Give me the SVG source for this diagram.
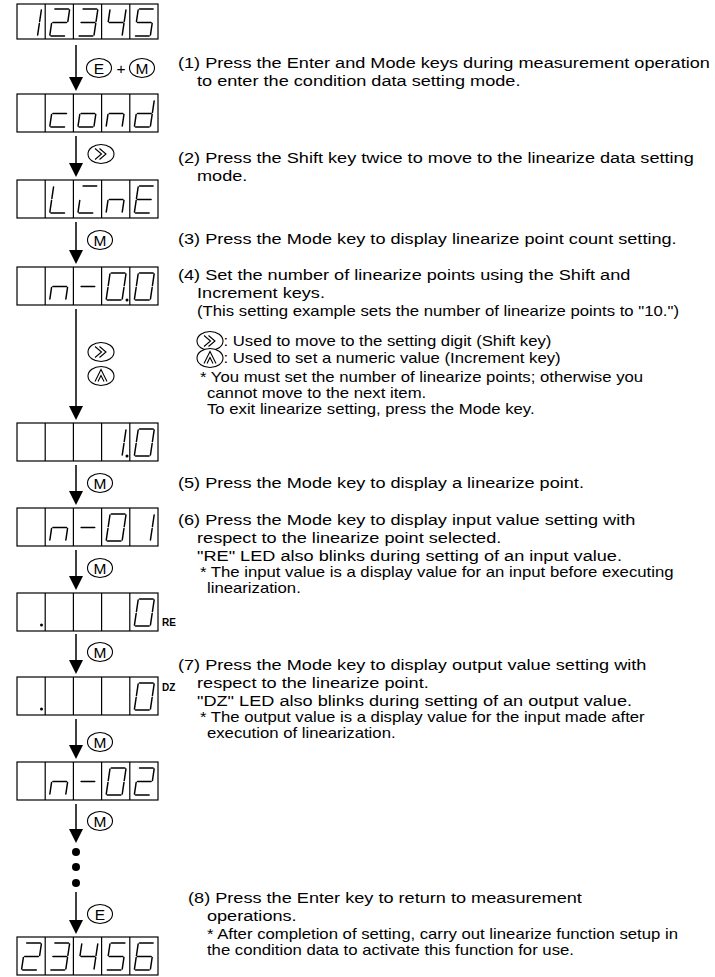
<svg xmlns="http://www.w3.org/2000/svg" width="715" height="977" viewBox="0 0 715 977">
<style>
.box{fill:none;stroke:#000;stroke-width:1.2}
.seg{fill:none;stroke:#000;stroke-width:1.5;stroke-linecap:round;stroke-linejoin:round}
.dp{fill:#000}
.key{fill:#fff;stroke:#000;stroke-width:1.1}
.ic{fill:none;stroke:#000;stroke-width:1.1}
.kl{font-family:"Liberation Sans",Arial,sans-serif;font-size:15.5px;text-anchor:middle;fill:#000}
.t{font-family:"Liberation Sans",Arial,sans-serif;font-size:15.5px;fill:#000}
.s{font-size:14.3px}
.led{font-family:"Liberation Sans",Arial,sans-serif;font-size:10px;font-weight:bold;fill:#000}
.conn line{stroke:#000;stroke-width:1.5}
.dot{fill:#000}
</style>
<defs>
<marker id="ah" markerUnits="userSpaceOnUse" markerWidth="14" markerHeight="14" viewBox="0 0 14 14" refX="7" refY="7" orient="auto"><path d="M0,0L14,7L0,14z" fill="#000"/></marker>
<g id="frame"><rect x="17" y="0" width="141" height="38"/><path d="M45.2,0V38M73.4,0V38M101.6,0V38M129.8,0V38"/></g>
<path id="d0" d="M9.7,6H23.3M24.35,7L22.65,18.5M22.35,20.5L20.65,32M5.7,33H19.3M6.35,20.5L4.65,32M8.35,7L6.65,18.5"/>
<path id="d1" d="M24.35,7L22.65,18.5M22.35,20.5L20.65,32"/>
<path id="d2" d="M9.7,6H23.3M24.35,7L22.65,18.5M7.7,19.5H21.3M6.35,20.5L4.65,32M5.7,33H19.3"/>
<path id="d3" d="M9.7,6H23.3M24.35,7L22.65,18.5M7.7,19.5H21.3M22.35,20.5L20.65,32M5.7,33H19.3"/>
<path id="d4" d="M8.35,7L6.65,18.5M7.7,19.5H21.3M24.35,7L22.65,18.5M22.35,20.5L20.65,32"/>
<path id="d5" d="M9.7,6H23.3M8.35,7L6.65,18.5M7.7,19.5H21.3M22.35,20.5L20.65,32M5.7,33H19.3"/>
<path id="d6" d="M9.7,6H23.3M8.35,7L6.65,18.5M7.7,19.5H21.3M6.35,20.5L4.65,32M22.35,20.5L20.65,32M5.7,33H19.3"/>
<path id="sc" d="M7.7,19.5H21.3M6.35,20.5L4.65,32M5.7,33H19.3"/>
<path id="so" d="M7.7,19.5H21.3M22.35,20.5L20.65,32M5.7,33H19.3M6.35,20.5L4.65,32"/>
<path id="sn" d="M7.7,19.5H21.3M6.35,20.5L4.65,32M22.35,20.5L20.65,32"/>
<path id="sd" d="M24.35,7L22.65,18.5M22.35,20.5L20.65,32M7.7,19.5H21.3M6.35,20.5L4.65,32M5.7,33H19.3"/>
<path id="sL" d="M8.35,7L6.65,18.5M6.35,20.5L4.65,32M5.7,33H19.3"/>
<path id="si" d="M9.7,6H23.3M6.35,20.5L4.65,32M5.7,33H19.3"/>
<path id="sE" d="M9.7,6H23.3M8.35,7L6.65,18.5M7.7,19.5H21.3M6.35,20.5L4.65,32M5.7,33H19.3"/>
<path id="sm" d="M7.7,19.5H21.3"/>
<g id="shift"><ellipse class="key" rx="13" ry="9.5"/><path class="ic" d="M-6,-5.5L0.5,0L-6,5.5M-1.5,-5.5L5,0L-1.5,5.5"/></g>
<g id="inc"><ellipse class="key" rx="13" ry="9.5"/><path class="ic" d="M-6,5.5L0,-6.5L6,5.5M-3,5.5L0,-0.5L3,5.5"/></g>
</defs>

<g id="connectors" class="conn">
<line x1="76" y1="45" x2="76" y2="84" marker-end="url(#ah)"/>
<line x1="76" y1="136" x2="76" y2="170" marker-end="url(#ah)"/>
<line x1="76" y1="222" x2="76" y2="257" marker-end="url(#ah)"/>
<line x1="76" y1="309" x2="76" y2="413" marker-end="url(#ah)"/>
<line x1="76" y1="465" x2="76" y2="498" marker-end="url(#ah)"/>
<line x1="76" y1="550" x2="76" y2="583" marker-end="url(#ah)"/>
<line x1="76" y1="634" x2="76" y2="667" marker-end="url(#ah)"/>
<line x1="76" y1="719" x2="76" y2="752" marker-end="url(#ah)"/>
<line x1="76" y1="804" x2="76" y2="836" marker-end="url(#ah)"/>
<circle class="dot" cx="76" cy="852" r="4"/>
<circle class="dot" cx="76" cy="867" r="4"/>
<circle class="dot" cx="76" cy="883" r="4"/>
<line x1="76" y1="892" x2="76" y2="927" marker-end="url(#ah)"/>
</g>

<g id="keys">
<g id="key-em"><ellipse class="key" cx="99" cy="68" rx="12.5" ry="9.5"/><text class="kl" x="99" y="73.5">E</text><text class="kl" x="121" y="73.5">+</text><ellipse class="key" cx="142" cy="68" rx="12.5" ry="9.5"/><text class="kl" x="142" y="73.5">M</text></g>
<use href="#shift" x="101" y="154"/>
<g id="key-m1"><ellipse class="key" cx="100" cy="240" rx="12.5" ry="9.5"/><text class="kl" x="100" y="245.5">M</text></g>
<use href="#shift" x="101" y="352"/>
<use href="#inc" x="101" y="376"/>
<g id="key-m2"><ellipse class="key" cx="100" cy="483" rx="12.5" ry="9.5"/><text class="kl" x="100" y="488.5">M</text></g>
<g id="key-m3"><ellipse class="key" cx="100" cy="568" rx="12.5" ry="9.5"/><text class="kl" x="100" y="573.5">M</text></g>
<g id="key-m4"><ellipse class="key" cx="100" cy="652" rx="12.5" ry="9.5"/><text class="kl" x="100" y="657.5">M</text></g>
<g id="key-m5"><ellipse class="key" cx="100" cy="742" rx="12.5" ry="9.5"/><text class="kl" x="100" y="747.5">M</text></g>
<g id="key-m6"><ellipse class="key" cx="100" cy="821" rx="12.5" ry="9.5"/><text class="kl" x="100" y="826.5">M</text></g>
<g id="key-e"><ellipse class="key" cx="100" cy="914" rx="12.5" ry="9.5"/><text class="kl" x="100" y="919.5">E</text></g>
</g>

<g id="disp-12345">
<rect class="box" x="17" y="4" width="141" height="35"/><path class="box" d="M45.2,4V39M73.4,4V39M101.6,4V39M129.8,4V39"/>
<use class="seg" href="#d1" x="17" y="3"/><use class="seg" href="#d2" x="45.2" y="3"/><use class="seg" href="#d3" x="73.4" y="3"/><use class="seg" href="#d4" x="101.6" y="3"/><use class="seg" href="#d5" x="129.8" y="3"/>
</g>
<g id="disp-cond">
<use class="box" href="#frame" y="94"/>
<use class="seg" href="#sc" x="45.2" y="94"/><use class="seg" href="#so" x="73.4" y="94"/><use class="seg" href="#sn" x="101.6" y="94"/><use class="seg" href="#sd" x="129.8" y="94"/>
</g>
<g id="disp-LinE">
<use class="box" href="#frame" y="180"/>
<use class="seg" href="#sL" x="45.2" y="180"/><use class="seg" href="#si" x="73.4" y="180"/><use class="seg" href="#sn" x="101.6" y="180"/><use class="seg" href="#sE" x="129.8" y="180"/>
</g>
<g id="disp-n-00">
<use class="box" href="#frame" y="267"/>
<use class="seg" href="#sn" x="45.2" y="267"/><use class="seg" href="#sm" x="73.4" y="267"/><use class="seg" href="#d0" x="101.6" y="267"/><circle class="dp" cx="127" cy="300" r="1.5"/><use class="seg" href="#d0" x="129.8" y="267"/>
</g>
<g id="disp-10">
<use class="box" href="#frame" y="423"/>
<use class="seg" href="#d1" x="101.6" y="423"/><circle class="dp" cx="127" cy="456" r="1.5"/><use class="seg" href="#d0" x="129.8" y="423"/>
</g>
<g id="disp-n-01">
<use class="box" href="#frame" y="508"/>
<use class="seg" href="#sn" x="45.2" y="508"/><use class="seg" href="#sm" x="73.4" y="508"/><use class="seg" href="#d0" x="101.6" y="508"/><use class="seg" href="#d1" x="129.8" y="508"/>
</g>
<g id="disp-re">
<use class="box" href="#frame" y="593"/>
<circle class="dp" cx="41.5" cy="625" r="1.5"/><use class="seg" href="#d0" x="129.8" y="593"/>
<text class="led" x="162" y="626">RE</text>
</g>
<g id="disp-dz">
<use class="box" href="#frame" y="677"/>
<circle class="dp" cx="41.5" cy="709" r="1.5"/><use class="seg" href="#d0" x="129.8" y="677"/>
<text class="led" x="162" y="691">DZ</text>
</g>
<g id="disp-n-02">
<use class="box" href="#frame" y="762"/>
<use class="seg" href="#sn" x="45.2" y="762"/><use class="seg" href="#sm" x="73.4" y="762"/><use class="seg" href="#d0" x="101.6" y="762"/><use class="seg" href="#d2" x="129.8" y="762"/>
</g>
<g id="disp-23456">
<use class="box" href="#frame" y="937"/>
<use class="seg" href="#d2" x="17" y="937"/><use class="seg" href="#d3" x="45.2" y="937"/><use class="seg" href="#d4" x="73.4" y="937"/><use class="seg" href="#d5" x="101.6" y="937"/><use class="seg" href="#d6" x="129.8" y="937"/>
</g>

<g id="icons-inline">
<use href="#shift" x="210" y="341"/>
<use href="#inc" x="210" y="358"/>
</g>

<g id="steps" class="t" transform="scale(1.17,1)">
<text x="152.1" y="68">(1) Press the Enter and Mode keys during measurement operation</text>
<text x="168.4" y="86">to enter the condition data setting mode.</text>
<text x="152.1" y="163">(2) Press the Shift key twice to move to the linearize data setting</text>
<text x="168.4" y="181">mode.</text>
<text x="152.1" y="244">(3) Press the Mode key to display linearize point count setting.</text>
<text x="152.1" y="280">(4) Set the number of linearize points using the Shift and</text>
<text x="168.4" y="298">Increment keys.</text>
<text class="s" x="168.4" y="316">(This setting example sets the number of linearize points to "10.")</text>
<text class="s" x="191" y="346">: Used to move to the setting digit (Shift key)</text>
<text class="s" x="191" y="363">: Used to set a numeric value (Increment key)</text>
<text class="s" x="170.9" y="382">* You must set the number of linearize points; otherwise you</text>
<text class="s" x="176.9" y="398">cannot move to the next item.</text>
<text class="s" x="176.9" y="414">To exit linearize setting, press the Mode key.</text>
<text x="152.1" y="488">(5) Press the Mode key to display a linearize point.</text>
<text x="152.1" y="525">(6) Press the Mode key to display input value setting with</text>
<text x="168.4" y="543">respect to the linearize point selected.</text>
<text x="168.4" y="561">"RE" LED also blinks during setting of an input value.</text>
<text class="s" x="170.9" y="577">* The input value is a display value for an input before executing</text>
<text class="s" x="176.9" y="593">linearization.</text>
<text x="152.1" y="670">(7) Press the Mode key to display output value setting with</text>
<text x="168.4" y="688">respect to the linearize point.</text>
<text x="168.4" y="706">"DZ" LED also blinks during setting of an output value.</text>
<text class="s" x="170.9" y="722">* The output value is a display value for the input made after</text>
<text class="s" x="176.9" y="738">execution of linearization.</text>
<text x="160.7" y="903">(8) Press the Enter key to return to measurement</text>
<text x="176.9" y="921">operations.</text>
<text class="s" x="176.9" y="939">* After completion of setting, carry out linearize function setup in</text>
<text class="s" x="176.9" y="955">the condition data to activate this function for use.</text>
</g>
</svg>
